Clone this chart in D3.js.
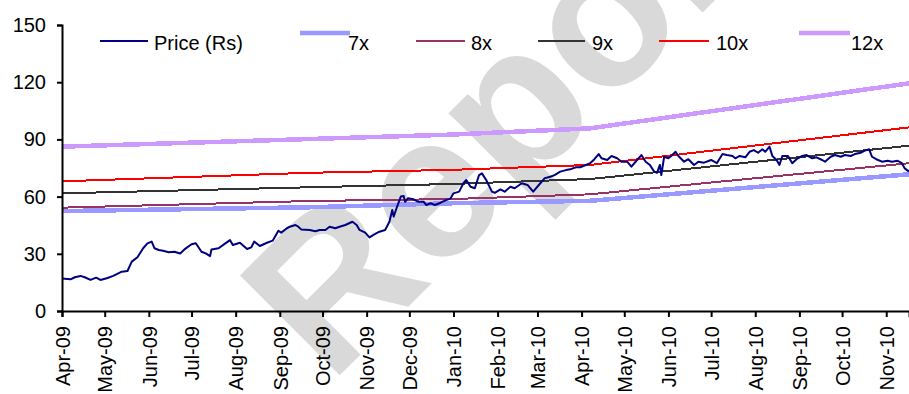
<!DOCTYPE html>
<html><head><meta charset="utf-8">
<script src="https://cdn.jsdelivr.net/npm/d3@7"></script>
<style>
body{margin:0;background:#fff}
svg{display:block;font-family:Arial,"Liberation Sans",sans-serif}
</style>
</head><body>
<svg id="chart" width="909" height="394"></svg>
<script>
// ---------- DATA ----------
const priceDates = [
"2009-04-01","2009-04-07","2009-04-10","2009-04-14","2009-04-17","2009-04-21","2009-04-25","2009-04-28",
"2009-05-03","2009-05-07","2009-05-13","2009-05-17","2009-05-20","2009-05-24","2009-05-28","2009-05-31",
"2009-06-03","2009-06-05","2009-06-08","2009-06-11","2009-06-15","2009-06-19","2009-06-23","2009-06-26",
"2009-07-01","2009-07-04","2009-07-08","2009-07-11","2009-07-14","2009-07-15","2009-07-20","2009-07-24","2009-07-28","2009-07-30",
"2009-08-04","2009-08-09","2009-08-12","2009-08-14","2009-08-18","2009-08-23","2009-08-27","2009-08-31",
"2009-09-02","2009-09-06","2009-09-08","2009-09-12","2009-09-14","2009-09-16","2009-09-22","2009-09-26","2009-09-29",
"2009-10-03","2009-10-06","2009-10-10","2009-10-13","2009-10-17","2009-10-22","2009-10-25","2009-10-27","2009-10-31",
"2009-11-03","2009-11-07","2009-11-10","2009-11-14","2009-11-17","2009-11-19","2009-11-20","2009-11-22","2009-11-25","2009-11-27","2009-11-28","2009-11-30",
"2009-12-04","2009-12-07","2009-12-11","2009-12-13","2009-12-16","2009-12-19","2009-12-23","2009-12-26","2009-12-30",
"2010-01-01","2010-01-05","2010-01-08","2010-01-10","2010-01-13","2010-01-16","2010-01-19","2010-01-21","2010-01-24","2010-01-28","2010-01-30",
"2010-02-03","2010-02-06","2010-02-10","2010-02-13","2010-02-18","2010-02-22","2010-02-26",
"2010-03-03","2010-03-06","2010-03-10","2010-03-13","2010-03-17","2010-03-21","2010-03-24","2010-03-28","2010-03-31",
"2010-04-04","2010-04-07","2010-04-10","2010-04-13","2010-04-15","2010-04-19","2010-04-22","2010-04-26","2010-04-29",
"2010-05-03","2010-05-06","2010-05-10","2010-05-13","2010-05-16","2010-05-19","2010-05-22","2010-05-24","2010-05-26","2010-05-27","2010-05-29",
"2010-06-01","2010-06-03","2010-06-06","2010-06-08","2010-06-12","2010-06-15","2010-06-19","2010-06-22","2010-06-26",
"2010-07-01","2010-07-05","2010-07-09","2010-07-12","2010-07-16","2010-07-18","2010-07-21","2010-07-25","2010-07-28","2010-07-31",
"2010-08-03","2010-08-06","2010-08-08","2010-08-11","2010-08-13","2010-08-16","2010-08-18","2010-08-20","2010-08-24","2010-08-27","2010-08-30",
"2010-09-03","2010-09-06","2010-09-10","2010-09-13","2010-09-17","2010-09-19","2010-09-23","2010-09-26","2010-09-30",
"2010-10-03","2010-10-07","2010-10-10","2010-10-14","2010-10-17","2010-10-20","2010-10-22","2010-10-25","2010-10-29",
"2010-11-02","2010-11-05","2010-11-09","2010-11-12","2010-11-14","2010-11-17"
];
const priceValues = [
17.1,16.6,17.7,18.4,17.7,16.3,17.5,16.3,
17.3,18.4,20.6,21.0,25.9,28.2,32.9,35.5,
36.4,32.9,32.0,31.6,30.8,31.1,30.2,32.3,
35.0,35.5,31.1,30.2,28.8,32.3,32.9,35.1,37.2,34.6,
35.8,32.5,33.4,36.4,34.1,35.8,36.9,42.1,
41.1,43.4,44.2,45.1,44.2,42.8,42.5,41.8,42.5,
42.5,44.2,43.4,44.2,45.1,46.8,45.1,42.5,41.1,
38.6,40.4,41.6,42.5,46.8,53.0,49.5,53.9,60.0,60.3,57.3,59.1,
58.6,57.3,57.3,55.6,56.5,55.6,56.8,57.9,59.1,
61.7,62.6,67.0,68.7,65.2,64.4,71.3,72.2,68.7,62.6,62.0,
63.8,62.6,65.2,64.4,67.0,66.1,62.6,
67.0,69.6,70.4,71.3,73.1,73.9,74.3,75.4,75.4,
76.6,77.5,79.6,82.3,80.1,79.2,81.3,80.1,78.3,
78.3,75.7,79.2,81.8,78.3,76.6,73.1,72.5,76.6,71.3,80.9,
80.1,81.3,83.5,81.3,78.3,79.6,76.6,78.3,77.8,
79.2,77.5,82.3,81.8,81.3,80.1,81.3,80.6,83.5,84.4,
83.0,84.8,83.5,86.2,81.3,79.2,76.6,81.3,81.3,77.5,79.6,
81.3,81.8,80.1,80.6,79.2,78.3,80.9,81.8,80.9,
81.8,81.3,82.3,83.0,84.1,84.8,80.9,79.6,78.3,
78.8,78.3,78.8,77.5,74.8,73.1
];
const bandDates = ["2009-04-01","2009-09-22","2009-12-30","2010-04-07","2010-11-17"];
const band7x  = [52.4, 54.4, 56.5, 57.8, 71.7];
const band8x  = [54.2, 57.7, 58.7, 61.2, 77.5];
const band9x  = [61.7, 64.9, 66.6, 69.2, 86.7];
const band10x = [68.0, 72.5, 74.0, 76.6, 96.3];
const band12x = [86.2, 90.2, 92.5, 95.8, 119.4];
const seriesNames = ["Price (Rs)","7x","8x","9x","10x","12x"];
const yTickValues = [0,30,60,90,120,150];
const xTickLabels = ["Apr-09","May-09","Jun-09","Jul-09","Aug-09","Sep-09","Oct-09","Nov-09","Dec-09","Jan-10",
  "Feb-10","Mar-10","Apr-10","May-10","Jun-10","Jul-10","Aug-10","Sep-10","Oct-10","Nov-10"];
const xDomain = ["2009-04-01","2010-11-17"];
const watermarkText = "Reports";

// ---------- CHART ----------
const parse = d3.timeParse("%Y-%m-%d");
const parseLabel = d3.timeParse("%b-%y");
const svg = d3.select("#chart");
const W = 909, H = 394;
const m = {left:62, right:0, top:25, bottom:83};

const x = d3.scaleTime().domain(xDomain.map(parse)).range([m.left, W - m.right]);
const y = d3.scaleLinear().domain([0,150]).range([H - m.bottom, m.top]);

// watermark (background)
svg.append("text")
  .attr("transform","translate(330,385) rotate(-45)")
  .attr("font-size",205).attr("font-weight","bold")
  .attr("fill","#d9d9d9")
  .text(watermarkText);

const bands = [
  {name:"7x",  vals:band7x,  color:"#9999FF", w:4.5},
  {name:"8x",  vals:band8x,  color:"#993366", w:2},
  {name:"9x",  vals:band9x,  color:"#333333", w:2},
  {name:"10x", vals:band10x, color:"#FF0000", w:2},
  {name:"12x", vals:band12x, color:"#CC99FF", w:4.5}
];
const line = d3.line().x(d=>x(d[0])).y(d=>y(d[1]));

svg.append("clipPath").attr("id","clip").append("rect")
  .attr("x", m.left).attr("y", 0).attr("width", W - m.left).attr("height", H - m.bottom);

const plot = svg.append("g").attr("clip-path","url(#clip)");
bands.forEach(b=>{
  plot.append("path")
    .datum(bandDates.map((d,i)=>[parse(d), b.vals[i]]))
    .attr("d", line).attr("fill","none")
    .attr("stroke", b.color).attr("stroke-width", b.w)
    .attr("shape-rendering","crispEdges");
});
plot.append("path")
  .datum(priceDates.map((d,i)=>[parse(d), priceValues[i]]))
  .attr("d", line).attr("fill","none")
  .attr("stroke","#000080").attr("stroke-width",2).attr("stroke-linejoin","round");

// axes
const yAxis = svg.append("g").attr("transform",`translate(${m.left},0)`)
  .call(d3.axisLeft(y).tickValues(yTickValues).tickSize(5).tickPadding(11));
yAxis.select(".domain").attr("stroke","#000").attr("stroke-width",2);
yAxis.selectAll(".tick line").attr("stroke","#000").attr("stroke-width",2);
yAxis.selectAll("text").attr("font-size",20).attr("fill","#000").attr("font-family","Arial, 'Liberation Sans', sans-serif");

const xAxis = svg.append("g").attr("transform",`translate(0,${H - m.bottom})`)
  .call(d3.axisBottom(x).tickValues(xTickLabels.map(parseLabel)).tickSize(6).tickFormat(d3.timeFormat("%b-%y")));
xAxis.select(".domain").attr("stroke","#000").attr("stroke-width",2);
xAxis.selectAll(".tick line").attr("stroke","#000").attr("stroke-width",2);
xAxis.selectAll("text")
  .attr("font-size",20).attr("fill","#000").attr("font-family","Arial, 'Liberation Sans', sans-serif")
  .attr("transform","rotate(-90)").attr("text-anchor","end")
  .attr("x",-15).attr("y",0).attr("dy","0.36em");

// legend
const legendItems = [
  {name:seriesNames[0], color:"#000080", w:2,   x0:100, x1:148, ly:41, tx:154},
  {name:seriesNames[1], color:"#9999FF", w:4.5, x0:300, x1:350, ly:33, tx:348},
  {name:seriesNames[2], color:"#993366", w:2,   x0:416, x1:465, ly:41, tx:471},
  {name:seriesNames[3], color:"#333333", w:2,   x0:538, x1:585, ly:41, tx:592},
  {name:seriesNames[4], color:"#FF0000", w:2,   x0:659, x1:709, ly:41, tx:716},
  {name:seriesNames[5], color:"#CC99FF", w:4.5, x0:799, x1:850, ly:33, tx:851}
];
const lg = svg.append("g");
legendItems.forEach(it=>{
  lg.append("line").attr("x1",it.x0).attr("x2",it.x1).attr("y1",it.ly).attr("y2",it.ly)
    .attr("stroke",it.color).attr("stroke-width",it.w);
  lg.append("text").attr("x",it.tx).attr("y",50).attr("font-size",20).attr("fill","#000").text(it.name);
});
</script>
</body></html>
